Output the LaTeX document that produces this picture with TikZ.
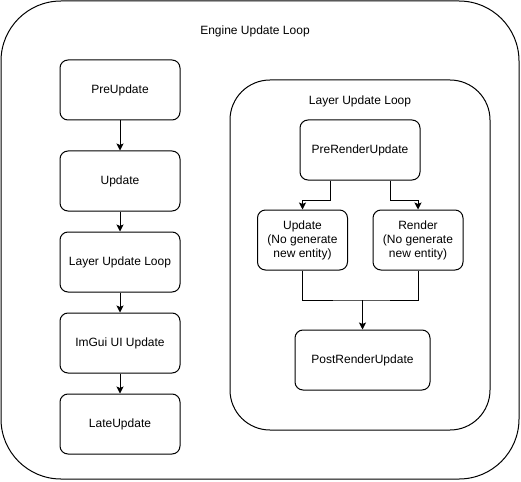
\documentclass[tikz,border=0pt]{standalone}
\usepackage{fontspec}
\setmainfont{Liberation Sans}
\usetikzlibrary{positioning, arrows.meta}
\tikzset{loopbox/.style={draw, rounded corners=#1, line width=1pt}}
\tikzset{dstep/.style={draw, rounded corners=8pt, line width=1pt, minimum width=120pt, minimum height=60pt, inner sep=0pt, align=center}}
\tikzset{dsmall/.style={dstep, minimum width=90pt}}
\tikzset{arr/.style={draw, line width=1pt, -{Stealth[length=7pt, width=7pt, inset=1.5pt]}}}
\tikzset{lnk/.style={draw, line width=1pt}}

\begin{document}
\begin{tikzpicture}[x=1pt, y=-1pt, every node/.style={font=\fontsize{12}{14}\selectfont}]
		\useasboundingbox (0,0) rectangle (521,481);
		% engine loop
		\draw[loopbox=60pt] (1,1) rectangle (519,479);
		\node (engine) at (255,31) {Engine Update Loop};
		\node[dstep] (pre) at (120,90) {PreUpdate};
		\node[dstep, below=30pt of pre] (upd) {Update};
		\node[dstep, below=20pt of upd] (lul) {Layer Update Loop};
		\node[dstep, below=20pt of lul] (imgui) {ImGui UI Update};
		\node[dstep, below=20pt of imgui] (late) {LateUpdate};
		\draw[arr] (pre) -- (upd);
		\draw[arr] (upd) -- (lul);
		\draw[arr] (lul) -- (imgui);
		\draw[arr] (imgui) -- (late);
		% layer loop
		\draw[loopbox=40pt] (230,80) rectangle (490,430);
		\node (layer) at (360,101) {Layer Update Loop};
		\node[dstep] (prer) at (360,150) {PreRenderUpdate};
		\node[dsmall] (lupd) at (302.5,240) {Update\\(No generate\\new entity)};
		\node[dsmall] (rend) at (418,240) {Render\\(No generate\\new entity)};
		\node[dstep, minimum width=135pt] (postr) at (362.5,360) {PostRenderUpdate};
		\coordinate (merge) at (362.5,300);
		\draw[arr] ([xshift=-30pt]prer.south) -- ++(0,20) -| (lupd.north);
		\draw[arr] ([xshift=30pt]prer.south) -- ++(0,20) -| (rend.north);
		\draw[lnk] (lupd.south) |- (merge) -| (rend.south);
		\draw[arr] (merge) -- (postr.north);
	\end{tikzpicture}
\end{document}
